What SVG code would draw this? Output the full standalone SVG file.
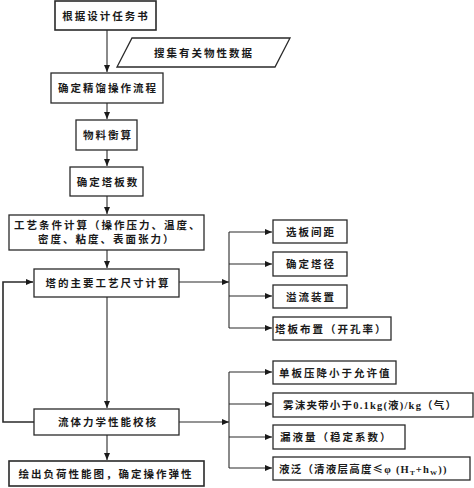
<svg xmlns="http://www.w3.org/2000/svg" width="474" height="488" viewBox="0 0 474 488">
<style>
.box{fill:#fff;stroke:#2a2a2a;stroke-width:1.3}
.t{font-family:"Liberation Serif","Noto Sans CJK SC",sans-serif;font-size:10.5px;font-weight:bold;fill:#1a1a1a;letter-spacing:2px}
.c{text-anchor:middle}
.ln{fill:none;stroke:#2a2a2a;stroke-width:1.1}
</style>
<defs>
<marker id="ah" markerWidth="8" markerHeight="8" refX="7" refY="4" orient="auto" markerUnits="userSpaceOnUse">
<path d="M0,1 L7,4 L0,7 Z" fill="#1a1a1a"/>
</marker>
</defs>
<rect width="474" height="488" fill="#fff"/>
<g id="connectors">
<line class="ln" x1="107" y1="30" x2="107" y2="72" marker-end="url(#ah)"/>
<line class="ln" x1="107" y1="103" x2="107" y2="119" marker-end="url(#ah)"/>
<line class="ln" x1="107" y1="150" x2="107" y2="166" marker-end="url(#ah)"/>
<line class="ln" x1="107" y1="196" x2="107" y2="214" marker-end="url(#ah)"/>
<line class="ln" x1="107" y1="250" x2="107" y2="268" marker-end="url(#ah)"/>
<line class="ln" x1="107" y1="297" x2="107" y2="408" marker-end="url(#ah)"/>
<line class="ln" x1="107" y1="435" x2="107" y2="460" marker-end="url(#ah)"/>
<polyline class="ln" points="34,422 3,422 3,282 33,282" marker-end="url(#ah)" style="stroke-width:1.6"/>
<line class="ln" x1="179" y1="282" x2="229" y2="282" marker-end="url(#ah)"/>
<line class="ln" x1="229" y1="232" x2="229" y2="328"/>
<line class="ln" x1="229" y1="232" x2="272" y2="232" marker-end="url(#ah)"/>
<line class="ln" x1="229" y1="264" x2="272" y2="264" marker-end="url(#ah)"/>
<line class="ln" x1="229" y1="296" x2="272" y2="296" marker-end="url(#ah)"/>
<line class="ln" x1="229" y1="328" x2="272" y2="328" marker-end="url(#ah)"/>
<line class="ln" x1="179" y1="422" x2="229" y2="422" marker-end="url(#ah)"/>
<line class="ln" x1="229" y1="372" x2="229" y2="468"/>
<line class="ln" x1="229" y1="372" x2="272" y2="372" marker-end="url(#ah)"/>
<line class="ln" x1="229" y1="404" x2="272" y2="404" marker-end="url(#ah)"/>
<line class="ln" x1="229" y1="437" x2="272" y2="437" marker-end="url(#ah)"/>
<line class="ln" x1="229" y1="468" x2="272" y2="468" marker-end="url(#ah)"/>
</g>
<g id="n1"><rect class="box" x="55" y="1" width="101" height="29" style="stroke-width:1.6"/><text class="t c" x="106" y="19.5">根据设计任务书</text></g>
<g id="n2"><polygon class="box" points="132,38 290,38 275,67 117,67"/><text class="t c" x="204" y="57">搜集有关物性数据</text></g>
<g id="n3"><rect class="box" x="51" y="73" width="112" height="30"/><text class="t c" x="108" y="92">确定精馏操作流程</text></g>
<g id="n4"><rect class="box" x="76" y="120" width="61" height="30"/><text class="t c" x="108" y="139">物料衡算</text></g>
<g id="n5"><rect class="box" x="70" y="167" width="73" height="29"/><text class="t c" x="108" y="186">确定塔板数</text></g>
<g id="n6"><rect class="box" x="9" y="215" width="195" height="35"/><text class="t" x="14" y="229">工艺条件计算（操作压力、温度、</text><text class="t" x="38" y="243">密度、粘度、表面张力）</text></g>
<g id="n7"><rect class="box" x="34" y="269" width="145" height="28"/><text class="t c" x="108" y="287">塔的主要工艺尺寸计算</text></g>
<g id="n8"><rect class="box" x="273" y="220" width="74" height="23"/><text class="t c" x="311" y="235.5">选板间距</text></g>
<g id="n9"><rect class="box" x="273" y="252" width="74" height="24"/><text class="t c" x="311" y="268">确定塔径</text></g>
<g id="n10"><rect class="box" x="273" y="285" width="74" height="23"/><text class="t c" x="311" y="300.5">溢流装置</text></g>
<g id="n11"><rect class="box" x="273" y="317" width="118" height="23"/><text class="t" x="275" y="332.5">塔板布置（开孔率）</text></g>
<g id="n12"><rect class="box" x="34" y="409" width="145" height="26"/><text class="t c" x="108" y="426">流体力学性能校核</text></g>
<g id="n13"><rect class="box" x="273" y="361" width="123" height="23"/><text class="t" x="279" y="376.5">单板压降小于允许值</text></g>
<g id="n14"><rect class="box" x="273" y="393" width="200" height="24"/><text class="t" x="283" y="409" style="letter-spacing:1.2px">雾沫夹带小于0.1kg(液)/kg（气）</text></g>
<g id="n15"><rect class="box" x="273" y="425" width="132" height="24"/><text class="t" x="280" y="441">漏液量（稳定系数）</text></g>
<g id="n16"><rect class="box" x="273" y="457" width="197" height="23"/><text class="t" x="279" y="472.5" style="letter-spacing:1.2px">液泛（清液层高度<tspan style="font-family:'Noto Sans CJK SC',sans-serif">≤</tspan>φ (H<tspan font-size="7" dy="2">T</tspan><tspan dy="-2">+h</tspan><tspan font-size="7" dy="2">W</tspan><tspan dy="-2">))</tspan></text></g>
<g id="n17"><rect class="box" x="9" y="461" width="195" height="25" style="stroke-width:1.6"/><text class="t c" x="106" y="477.5">绘出负荷性能图，确定操作弹性</text></g>
</svg>
